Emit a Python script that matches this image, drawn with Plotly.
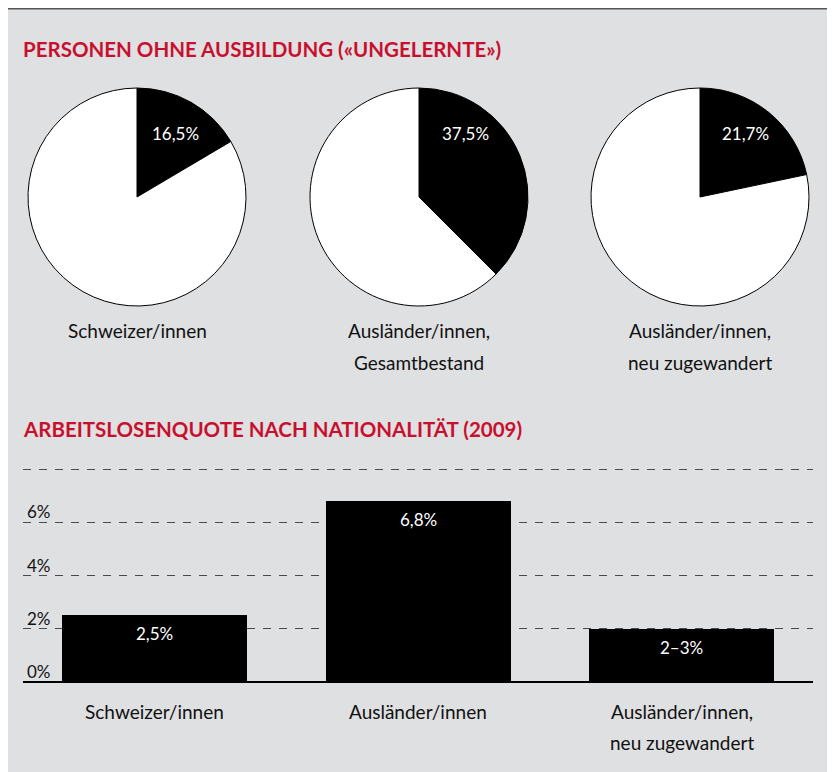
import plotly.graph_objects as go

# ---- data ----
pie_title = "PERSONEN OHNE AUSBILDUNG («UNGELERNTE»)"
pie_groups = ["Schweizer/innen", "Ausländer/innen,<br>Gesamtbestand", "Ausländer/innen,<br>neu zugewandert"]
pie_shares = [16.5, 37.5, 21.7]

bar_title = "ARBEITSLOSENQUOTE NACH NATIONALITÄT (2009)"
bar_categories = ["Schweizer/innen", "Ausländer/innen", "Ausländer/innen,<br>neu zugewandert"]
bar_values = [2.5, 6.8, 2.0]
bar_labels = ["2,5%", "6,8%", "2–3%"]
y_tickvals = [0, 2, 4, 6]
y_ticktext = ["0%", "2%", "4%", "6%"]

# page has an 8px body margin: figure occupies x 8..828, y 8..772 of the window
OX, OY = 8, 8
W, H = 820, 764
FONT = "Lato"
RED = "#c8102e"
BG = "#dfe0e2"

def px(x):
    return (x - OX) / W

def py(y):
    return 1 - (y - OY) / H

fig = go.Figure()

# pies
pie_centers = [137, 419, 700]
pie_cy, pie_r = 197, 109
for i, (g, s) in enumerate(zip(pie_groups, pie_shares)):
    cx = pie_centers[i]
    fig.add_trace(go.Pie(
        values=[s, 100 - s],
        labels=["ohne Ausbildung", "übrige"],
        sort=False, direction="clockwise", rotation=0,
        marker=dict(colors=["#000000", "#ffffff"], line=dict(color="#000000", width=1)),
        textinfo="none", hoverinfo="none", showlegend=False,
        domain=dict(x=[px(cx - pie_r), px(cx + pie_r)], y=[py(pie_cy + pie_r), py(pie_cy - pie_r)]),
    ))

# bars
fig.add_trace(go.Bar(
    x=[0, 1, 2], y=bar_values, width=0.702,
    marker=dict(color="#000000", line=dict(width=0)),
    showlegend=False, hoverinfo="none",
))

annotations = []
# titles
for t, y in [(pie_title, 49), (bar_title, 429)]:
    annotations.append(dict(text=t, xref="paper", yref="paper", x=px(21), y=py(y),
                            xanchor="left", yanchor="middle", showarrow=False,
                            font=dict(family=FONT, size=20.5, color=RED, weight="bold")))

# pie value labels
pie_label_dx = [38, 46, 45]
for i, s in enumerate(pie_shares):
    annotations.append(dict(text=f"{s:.1f}%".replace(".", ","), xref="paper", yref="paper",
                            x=px(pie_centers[i] + pie_label_dx[i]), y=py(133),
                            xanchor="center", yanchor="middle", showarrow=False,
                            font=dict(family=FONT, size=17, color="#ffffff")))
# pie group labels
for i, g in enumerate(pie_groups):
    for j, line in enumerate(g.split("<br>")):
        annotations.append(dict(text=line, xref="paper", yref="paper",
                                x=px(pie_centers[i]), y=py(330 + 33 * j),
                                xanchor="center", yanchor="middle", showarrow=False,
                                font=dict(family=FONT, size=19, color="#111111")))

# bar value labels
for i, (v, lab) in enumerate(zip(bar_values, bar_labels)):
    annotations.append(dict(text=lab, xref="x", yref="y", x=i, y=v,
                            xanchor="center", yanchor="top", yshift=-6, showarrow=False,
                            font=dict(family=FONT, size=17, color="#ffffff")))
# y tick labels
for v, t in zip(y_tickvals, y_ticktext):
    annotations.append(dict(text=t, xref="paper", yref="y", x=px(25), y=v,
                            xanchor="left", yanchor="bottom", yshift=-2, showarrow=False,
                            font=dict(family=FONT, size=17, color="#111111")))
# bar category labels
for i, c in enumerate(bar_categories):
    for j, line in enumerate(c.split("<br>")):
        annotations.append(dict(text=line, xref="x", yref="paper", x=i, y=py(711 + 31 * j),
                                xanchor="center", yanchor="middle", showarrow=False,
                                font=dict(family=FONT, size=19, color="#111111")))

shapes = [
    dict(type="line", xref="paper", yref="paper", x0=0, x1=1, y0=py(8.75), y1=py(8.75),
         line=dict(color="#555555", width=1.5), layer="above"),
]

unit = 26.625  # px per percent
ytop = 8.3
fig.update_layout(
    width=W, height=H,
    margin=dict(l=0, r=0, t=0, b=0),
    paper_bgcolor=BG, plot_bgcolor="rgba(0,0,0,0)",
    font=dict(family=FONT),
    xaxis=dict(domain=[px(22.75), px(813.25)], range=[-0.5, 2.5], showticklabels=False,
               showgrid=False, zeroline=False, showline=False, ticks="", fixedrange=True),
    yaxis=dict(domain=[py(682), py(682 - ytop * unit)], range=[0, ytop], tickvals=[0, 2, 4, 6, 8],
               showticklabels=False, showgrid=True, gridcolor="#4a4a4a", gridwidth=1.3,
               griddash="8px,8px", zeroline=True, zerolinecolor="#000000", zerolinewidth=1.5,
               showline=False, ticks="", fixedrange=True),
    annotations=annotations,
    shapes=shapes,
    bargap=0,
)

fig.write_html("out.html")
